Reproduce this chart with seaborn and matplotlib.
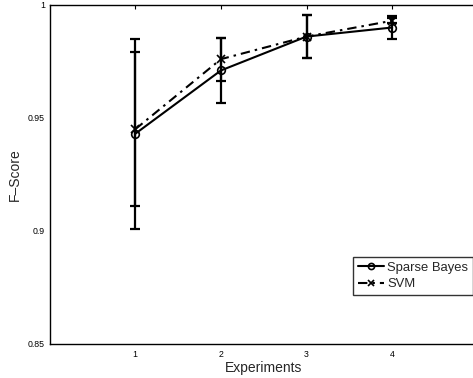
import numpy as np
import pandas as pd
import seaborn as sns
import matplotlib
matplotlib.use("Agg")
import matplotlib.pyplot as plt
from matplotlib.ticker import FormatStrFormatter

experiments = [1, 2, 3, 4]
sparse_bayes_mean = [0.943, 0.971, 0.986, 0.990]
sparse_bayes_err = [0.042, 0.0145, 0.0097, 0.0049]
svm_mean = [0.945, 0.976, 0.986, 0.993]
svm_err = [0.034, 0.0095, 0.0095, 0.0012]
method_names = ["Sparse Bayes", "SVM"]

y_ticks = [0.85, 0.9, 0.95, 1.0]


def build_frame():
    frame = pd.DataFrame({
        "Experiments": experiments * 2,
        "F-Score": sparse_bayes_mean + svm_mean,
        "err": sparse_bayes_err + svm_err,
        "method": [method_names[0]] * 4 + [method_names[1]] * 4,
    })
    return frame


def fscore_plot(frame):
    sns.set_theme(style="white")
    plt.rcParams['font.family'] = ['Liberation Sans', 'DejaVu Sans']

    fig = plt.figure(figsize=(4.73, 3.78), dpi=100)
    ax = fig.add_axes([0.105, 0.09, 0.905, 0.897])

    markers = {"Sparse Bayes": "o", "SVM": "x"}
    line_styles = {"Sparse Bayes": "-", "SVM": (0, (4.5, 2.4, 1.2, 2.4))}

    handles = []
    for name in method_names:
        sub = frame[frame["method"] == name]
        sns.lineplot(data=sub, x="Experiments", y="F-Score",
                     marker=markers[name], linestyle=line_styles[name],
                     color="black", linewidth=1.5, markersize=5.5,
                     markerfacecolor="none", markeredgecolor="black",
                     markeredgewidth=1.2, legend=False, ax=ax)
        handles.append(ax.lines[-1])

    for name in method_names:
        sub = frame[frame["method"] == name]
        ax.errorbar(sub["Experiments"], sub["F-Score"], yerr=sub["err"], fmt="none",
                    ecolor="black", elinewidth=1.6, capsize=3.5, capthick=1.6)

    ax.set_xlim(0, 5)
    ax.set_ylim(0.85, 1.0)
    ax.set_xticks(experiments)
    ax.set_yticks(y_ticks)
    ax.yaxis.set_major_formatter(FormatStrFormatter("%g"))
    ax.tick_params(direction="in", length=3, width=0.8, labelsize=6.3,
                   top=True, right=True, colors="black")
    ax.tick_params(axis="x", pad=4.3)
    ax.tick_params(axis="y", pad=3.5)
    for spine in ax.spines.values():
        spine.set_color("black")
        spine.set_linewidth(1.0)

    ax.set_xlabel("Experiments", fontsize=10, labelpad=1.3)
    ax.set_ylabel("F\u2013Score", fontsize=10, labelpad=4)

    leg = ax.legend(handles, method_names, loc="upper left",
                    bbox_to_anchor=(0.709, 0.257), fontsize=9.4,
                    frameon=True, fancybox=False, edgecolor="black",
                    handlelength=2.0, handletextpad=0.25, borderpad=0.35,
                    labelspacing=0.35, borderaxespad=0, markerscale=0.8)
    leg.get_frame().set_linewidth(1.0)

    fig.savefig("out.png", dpi=100)
    return


if __name__ == '__main__':
    data_frame = build_frame()
    fscore_plot(data_frame)
